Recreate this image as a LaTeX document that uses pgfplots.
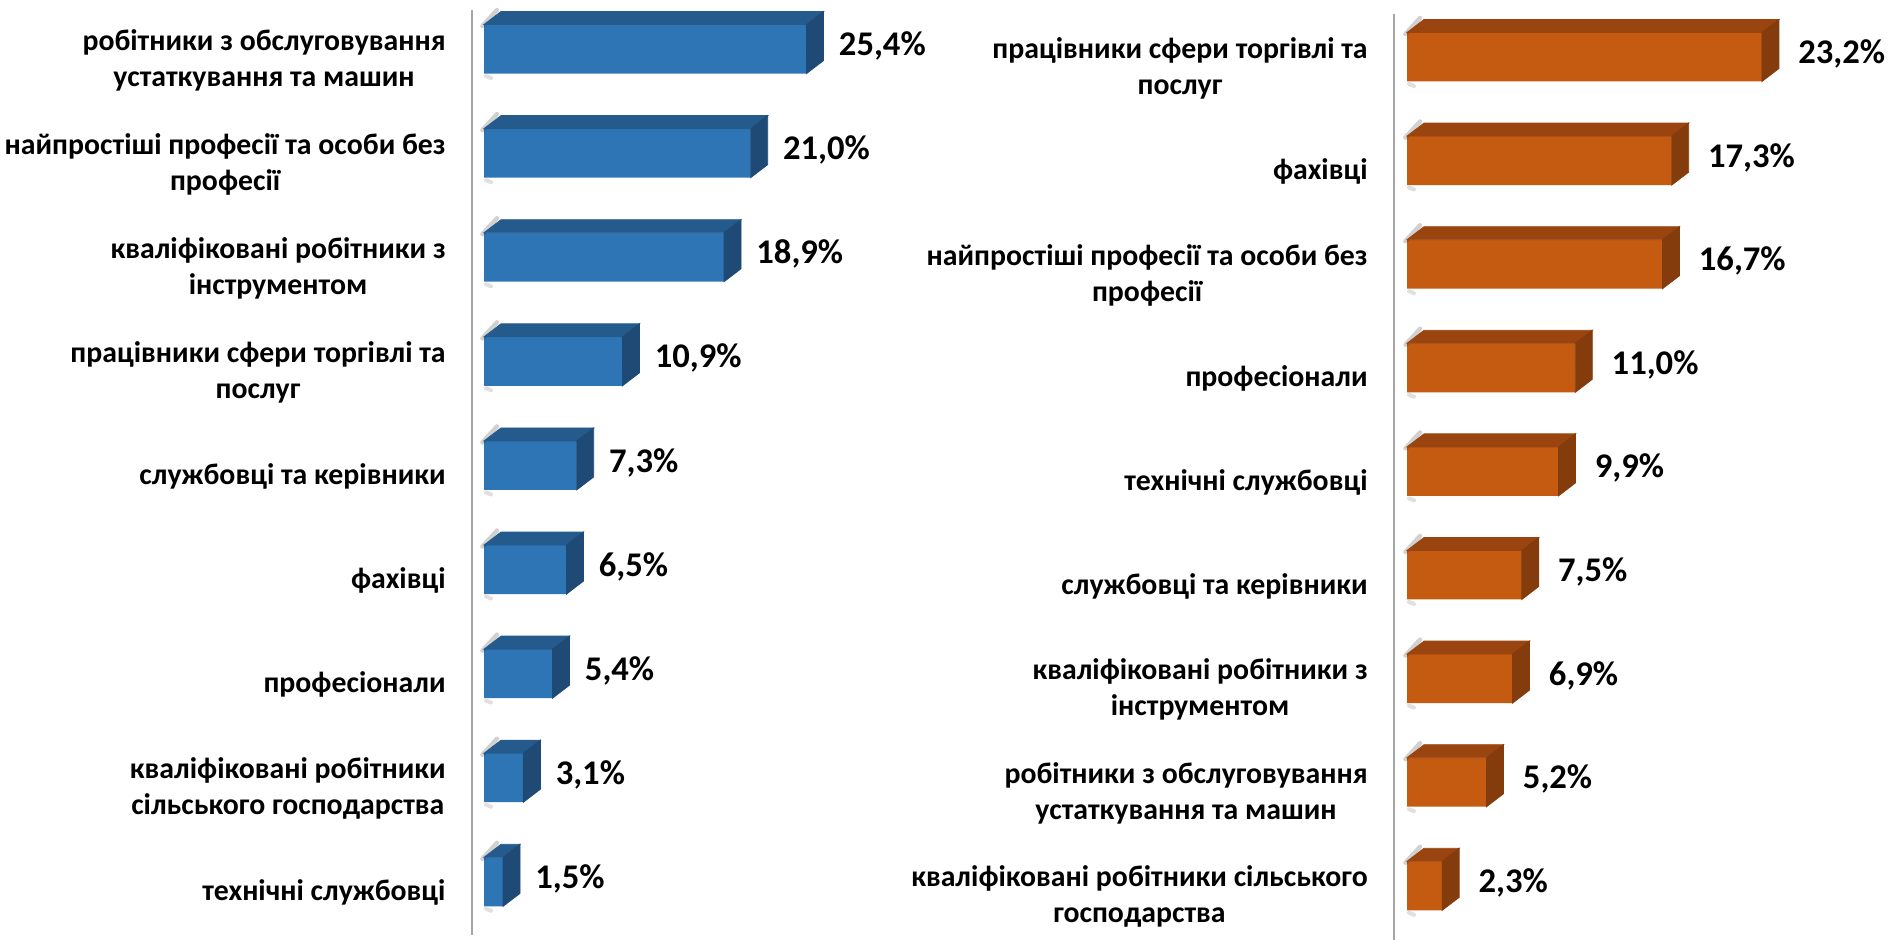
\documentclass[border=0pt]{standalone}
\usepackage{pgfplots}
\pgfplotsset{compat=1.18}
\usepackage{pgfplotstable}
\usepackage{fontspec}
\setmainfont{Carlito}
\definecolor{bF}{HTML}{2E75B6}
\definecolor{bT}{HTML}{255A8C}
\definecolor{bS}{HTML}{1F4A76}
\definecolor{oF}{HTML}{C55A11}
\definecolor{oT}{HTML}{9A4410}
\definecolor{oS}{HTML}{843C0C}
\definecolor{axg}{HTML}{A6A6A6}

\pgfplotstableread{
i v lbl
0 25.4 25,4
1 21.0 21,0
2 18.9 18,9
3 10.9 10,9
4 7.3 7,3
5 6.5 6,5
6 5.4 5,4
7 3.1 3,1
8 1.5 1,5
}\leftdata
\pgfplotstableread{
i v lbl
0 23.2 23,2
1 17.3 17,3
2 16.7 16,7
3 11.0 11,0
4 9.9 9,9
5 7.5 7,5
6 6.9 6,9
7 5.2 5,2
8 2.3 2,3
}\rightdata

\pgfplotsset{
  panel/.style={
    y dir=reverse,
    axis x line=none,
    axis y line*=left,
    axis line style={color=axg, line width=1.2pt},
    major tick length=0pt,
    xtick=\empty,
    ytick={0,...,8},
    yticklabel style={font=\fontsize{14.9}{18}\selectfont\bfseries, align=center, anchor=east, inner sep=0pt, xshift=-13pt, yshift=-5.5pt},
    clip=false,
  },
}

\newcommand{\threeD}[4]{% unit, topcolor, sidecolor, table
  \addplot[only marks, mark=*, mark size=0pt, scatter,
    visualization depends on={\thisrow{v} \as \val},
    scatter/@pre marker code/.code={%
      \draw[black, opacity=0.18, line width=2.2pt, line cap=round] ({-\val*#1-0.8pt},11.5pt) -- ({-\val*#1+6.5pt},19.5pt);
      \draw[black, opacity=0.12, line width=2pt, line cap=round] ({-\val*#1+1pt},-13.5pt) -- ({-\val*#1+3.5pt},-14.5pt);
      \fill[#2] ({-\val*#1},12.25pt) -- (0pt,12.25pt) -- (8.5pt,18.75pt) -- ({-\val*#1+8.5pt},18.75pt) -- cycle;
      \fill[#3] (0pt,-12.25pt) -- (0pt,12.25pt) -- (8.5pt,18.75pt) -- (8.5pt,-5.75pt) -- cycle;
    },
    scatter/@post marker code/.code={}]
    table[x=v, y=i] {#4};
}

\begin{document}
\begin{tikzpicture}
\path[use as bounding box] (0,0) rectangle (945.5pt,470pt);

\begin{axis}[panel,
  at={(236pt,465pt)}, anchor=north west,
  x=6.35pt, y=52.05pt,
  xmin=-0.945, xmax=30, ymin=-0.375, ymax=8.51,
  yticklabels={{робітники з обслуговування\\устаткування та машин},
    {найпростіші професії та особи без\\професії},
    {кваліфіковані робітники з\\інструментом},
    {працівники сфери торгівлі та\\послуг},
    {службовці та керівники},
    {фахівці},
    {професіонали},
    {кваліфіковані робітники\\сільського господарства},
    {технічні службовці}},
]
\threeD{6.35pt}{bT}{bS}{\leftdata}
\addplot[xbar, bar width=24.5pt, fill=bF, draw=none,
  point meta=explicit symbolic,
  nodes near coords={\pgfplotspointmeta\%},
  nodes near coords style={font=\fontsize{17.3}{20}\selectfont\bfseries, anchor=west, inner sep=0pt, xshift=16pt, yshift=1.5pt}]
  table[x=v, y=i, meta=lbl] {\leftdata};
\end{axis}

\begin{axis}[panel,
  at={(697pt,463pt)}, anchor=north west,
  x=7.65pt, y=51.8pt,
  xmin=-0.85, xmax=30, ymin=-0.415, ymax=8.52,
  yticklabels={{працівники сфери торгівлі та\\послуг},
    {фахівці},
    {найпростіші професії та особи без\\професії},
    {професіонали},
    {технічні службовці},
    {службовці та керівники},
    {кваліфіковані робітники з\\інструментом},
    {робітники з обслуговування\\устаткування та машин},
    {кваліфіковані робітники сільського\\господарства}},
]
\threeD{7.65pt}{oT}{oS}{\rightdata}
\addplot[xbar, bar width=24.5pt, fill=oF, draw=none,
  point meta=explicit symbolic,
  nodes near coords={\pgfplotspointmeta\%},
  nodes near coords style={font=\fontsize{17.3}{20}\selectfont\bfseries, anchor=west, inner sep=0pt, xshift=18pt, yshift=1.5pt}]
  table[x=v, y=i, meta=lbl] {\rightdata};
\end{axis}
\end{tikzpicture}
\end{document}
